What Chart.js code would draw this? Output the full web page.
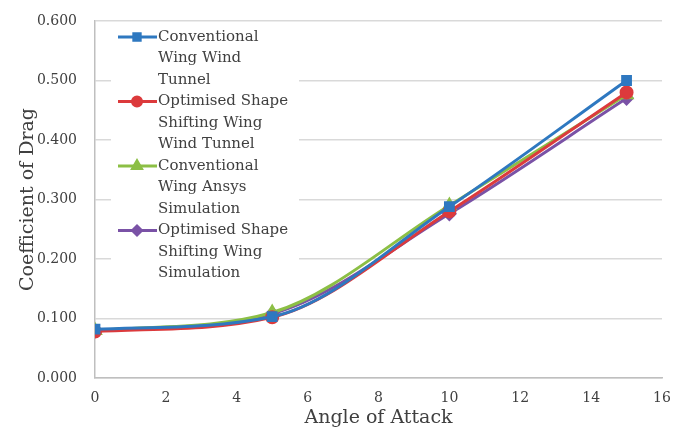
<!DOCTYPE html>
<html lang="en">
<head>
  <meta charset="UTF-8" />
  <title>Coefficient of Drag vs Angle of Attack</title>
  <script src="https://cdn.jsdelivr.net/npm/chart.js"></script>
  <style>
    html, body { margin: 0; padding: 0; background: #fff; }
    #wrap { width: 700px; height: 430px; }
  </style>
</head>
<body>
  <div id="wrap"><canvas id="dragChart" width="700" height="430"></canvas></div>

  <script>
    const angles = [0, 5, 10, 15];
    const convWindTunnel = [0.082, 0.103, 0.288, 0.500];
    const shapeWindTunnel = [0.078, 0.102, 0.280, 0.480];
    const convAnsys = [0.080, 0.110, 0.290, 0.476];
    const shapeSimulation = [0.079, 0.108, 0.276, 0.470];

    const seriesNames = [
      ['Conventional', 'Wing Wind', 'Tunnel'],
      ['Optimised Shape', 'Shifting Wing', 'Wind Tunnel'],
      ['Conventional', 'Wing Ansys', 'Simulation'],
      ['Optimised Shape', 'Shifting Wing', 'Simulation']
    ];
    const seriesColors = ['#2e78c0', '#dc3a3c', '#8cbf45', '#7a52a6'];
    const seriesMarkers = ['rect', 'circle', 'triangle', 'rectRot'];

    const FONT = "'DejaVu Serif', serif";
    const TEXT = '#404040';
    const pts = v => v.map((y, i) => ({ x: angles[i], y }));

    function makeSet(i, values) {
      return {
        label: seriesNames[i].join(' '),
        data: pts(values),
        borderColor: seriesColors[i],
        backgroundColor: seriesColors[i],
        borderWidth: 3,
        pointStyle: seriesMarkers[i],
        pointRadius: seriesMarkers[i] === 'triangle' ? 6 : 5.5,
        cubicInterpolationMode: 'monotone'
      };
    }

    // legend drawn inside the plot, with wrapped labels
    const boxLegend = {
      id: 'boxLegend',
      beforeDatasetsDraw(chart) {
        const ctx = chart.ctx;
        const a = chart.chartArea;
        ctx.save();
        ctx.fillStyle = '#fff';
        ctx.fillRect(a.left + 16, a.top + 2, 188, 262);
        ctx.restore();
      },
      afterDraw(chart) {
        const ctx = chart.ctx;
        const a = chart.chartArea;
        const x0 = a.left + 23;
        let y = a.top + 16;
        ctx.save();
        ctx.font = '15px ' + FONT;
        ctx.textBaseline = 'middle';
        seriesNames.forEach((lines, i) => {
          ctx.strokeStyle = seriesColors[i];
          ctx.fillStyle = seriesColors[i];
          ctx.lineWidth = 3;
          ctx.beginPath();
          ctx.moveTo(x0, y);
          ctx.lineTo(x0 + 39, y);
          ctx.stroke();
          Chart.helpers.drawPoint(ctx, {
            pointStyle: seriesMarkers[i],
            radius: seriesMarkers[i] === 'triangle' ? 5 : 4.5,
            rotation: 0,
            borderWidth: 1
          }, x0 + 19, y);
          ctx.fillStyle = TEXT;
          lines.forEach((t, j) => ctx.fillText(t, x0 + 40, y + j * 21.5));
          y += 64.5;
        });
        ctx.restore();
      }
    };

    new Chart(document.getElementById('dragChart'), {
      type: 'line',
      data: {
        datasets: [
          makeSet(0, convWindTunnel),
          makeSet(1, shapeWindTunnel),
          makeSet(2, convAnsys),
          makeSet(3, shapeSimulation)
        ]
      },
      options: {
        responsive: false,
        animation: false,
        layout: { padding: { top: 21, right: 38, left: 0, bottom: 1 } },
        plugins: { legend: { display: false }, tooltip: { enabled: false } },
        scales: {
          x: {
            type: 'linear',
            min: 0, max: 16,
            afterFit: s => { s.height = 51; },
            ticks: { stepSize: 2, color: TEXT, font: { family: FONT, size: 14 }, padding: 12 },
            grid: { display: false, drawTicks: false },
            border: { color: '#bfbfbf', width: 1.5 },
            title: { display: true, text: 'Angle of Attack', color: TEXT, font: { family: FONT, size: 19 }, padding: { top: 1, bottom: 0 } }
          },
          y: {
            min: 0, max: 0.6,
            afterFit: s => { s.width = 95; s.paddingTop = 0; },
            ticks: { stepSize: 0.1, color: TEXT, font: { family: FONT, size: 14 }, padding: 18,
                     callback: v => v.toFixed(3) },
            grid: { color: '#d9d9d9', lineWidth: 1.5, drawTicks: false },
            border: { color: '#bfbfbf', width: 1.5 },
            title: { display: true, text: 'Coefficient of Drag', color: TEXT, font: { family: FONT, size: 19 }, padding: { top: 17, bottom: 2 } }
          }
        }
      },
      plugins: [boxLegend]
    });
  </script>
</body>
</html>
